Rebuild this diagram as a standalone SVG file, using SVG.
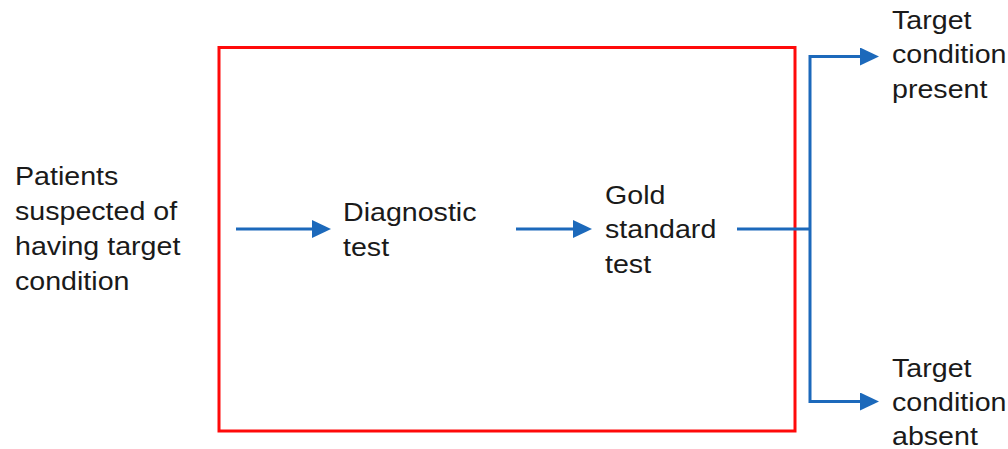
<svg xmlns="http://www.w3.org/2000/svg" width="1008" height="449" viewBox="0 0 1008 449">
<style>
  text { font-family: "Liberation Sans", Arial, sans-serif; font-size: 26px; fill: #1a1a1a; }
  .conn { stroke: #1c69bb; stroke-width: 3; fill: none; }
  .box { stroke: #ff0a0a; stroke-width: 3; fill: none; }
</style>
<defs>
  <marker id="ah" markerUnits="userSpaceOnUse" markerWidth="20" markerHeight="20" refX="9" refY="9" orient="auto" viewBox="0 0 20 20">
    <path d="M0,0 L19,9 L0,18 Z" fill="#1c69bb"/>
  </marker>
</defs>
<rect id="frame" class="box" x="219" y="47.5" width="576" height="383.5"/>
<g id="connectors">
  <line class="conn" x1="236" y1="229" x2="321" y2="229" marker-end="url(#ah)"/>
  <line class="conn" x1="516" y1="229" x2="582" y2="229" marker-end="url(#ah)"/>
  <line class="conn" x1="737" y1="229" x2="810" y2="229"/>
  <path class="conn" d="M869,56.5 H810 V401.5 H869" />
  <line class="conn" x1="860" y1="56.5" x2="869" y2="56.5" marker-end="url(#ah)"/>
  <line class="conn" x1="860" y1="401.5" x2="869" y2="401.5" marker-end="url(#ah)"/>
</g>
<g id="patients" transform="translate(15,0) scale(1.1,1)">
  <text x="0" y="185.5">Patients</text>
  <text x="0" y="220.5">suspected of</text>
  <text x="0" y="255.5">having target</text>
  <text x="0" y="290">condition</text>
</g>
<g id="diagnostic" transform="translate(343,0) scale(1.1,1)">
  <text x="0" y="221">Diagnostic</text>
  <text x="0" y="256">test</text>
</g>
<g id="gold" transform="translate(605,0) scale(1.1,1)">
  <text x="0" y="204">Gold</text>
  <text x="0" y="238.5">standard</text>
  <text x="0" y="273">test</text>
</g>
<g id="present" transform="translate(892,0) scale(1.1,1)">
  <text x="0" y="29">Target</text>
  <text x="0" y="63.5">condition</text>
  <text x="0" y="98">present</text>
</g>
<g id="absent" transform="translate(892,0) scale(1.1,1)">
  <text x="0" y="377">Target</text>
  <text x="0" y="411">condition</text>
  <text x="0" y="445">absent</text>
</g>
</svg>
